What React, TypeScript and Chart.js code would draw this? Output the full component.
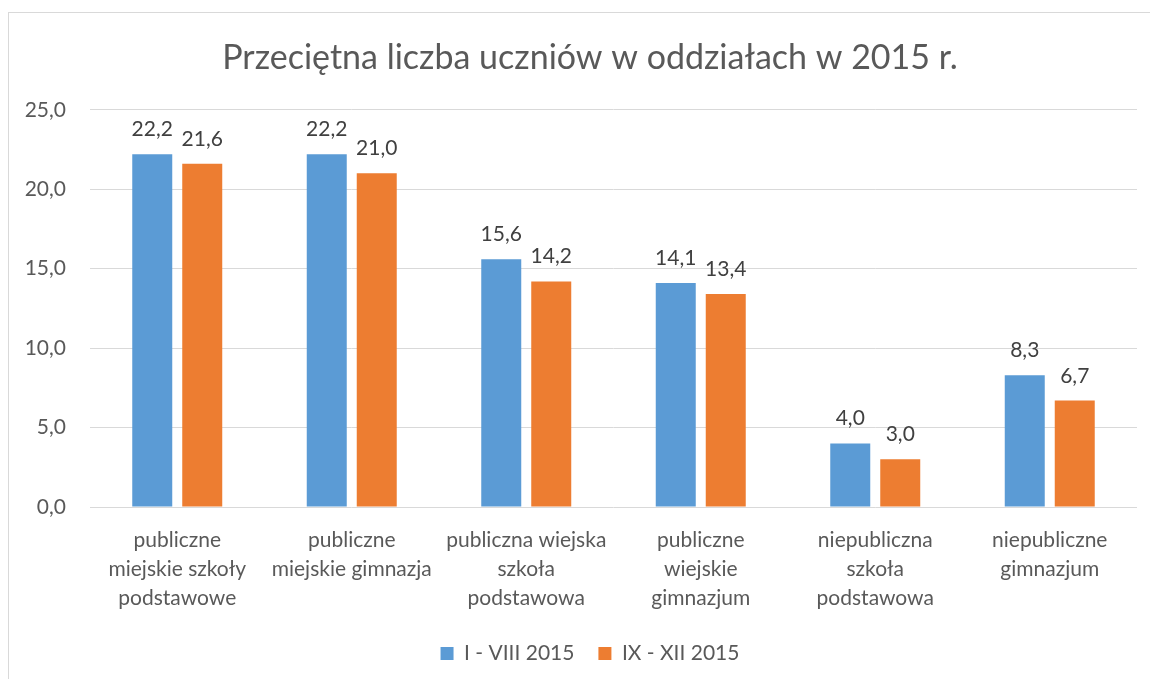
import React, { useEffect, useRef } from "react";
import { Chart, registerables } from "chart.js";

Chart.register(...registerables);

const categories: string[][] = [
  ["publiczne", "miejskie szkoły", "podstawowe"],
  ["publiczne", "miejskie gimnazja"],
  ["publiczna wiejska", "szkoła", "podstawowa"],
  ["publiczne", "wiejskie", "gimnazjum"],
  ["niepubliczna", "szkoła", "podstawowa"],
  ["niepubliczne", "gimnazjum"],
];
const seriesNames = ["I - VIII 2015", "IX - XII 2015"];
const seriesA = [22.2, 22.2, 15.6, 14.1, 4.0, 8.3];
const seriesB = [21.6, 21.0, 14.2, 13.4, 3.0, 6.7];
const yTicks = [0, 5, 10, 15, 20, 25];
const titleText = "Przeciętna liczba uczniów w oddziałach w 2015 r.";

const FONT = "Lato, 'Open Sans', sans-serif";
const fmt = (v: number) => v.toFixed(1).replace(".", ",");

const valueLabels = {
  id: "valueLabels",
  afterDatasetsDraw(chart: any) {
    const ctx = chart.ctx;
    ctx.save();
    ctx.font = `21px ${FONT}`;
    ctx.fillStyle = "#404040";
    ctx.textAlign = "center";
    ctx.textBaseline = "alphabetic";
    chart.data.datasets.forEach((ds: any, i: number) => {
      const meta = chart.getDatasetMeta(i);
      meta.data.forEach((bar: any, j: number) => {
        ctx.fillText(fmt(ds.data[j]), bar.x, bar.y - 18);
      });
    });
    ctx.restore();
  },
};

export default function App() {
  const ref = useRef<HTMLCanvasElement>(null);
  useEffect(() => {
    if (!ref.current) return;
    const chart = new Chart(ref.current, {
      type: "bar",
      data: {
        labels: categories,
        datasets: [
          { label: seriesNames[0], data: seriesA, backgroundColor: "#5B9BD5" },
          { label: seriesNames[1], data: seriesB, backgroundColor: "#ED7D31" },
        ],
      },
      options: {
        animation: false,
        responsive: false,
        devicePixelRatio: 1,
        layout: { padding: { left: 0, right: 2, top: 0, bottom: 59 } },
        datasets: { bar: { categoryPercentage: 0.573, barPercentage: 0.8 } },
        plugins: {
          title: {
            display: true,
            text: titleText,
            color: "#595959",
            font: { family: FONT, size: 34, weight: "normal" as any, lineHeight: 1.2 },
            padding: { top: 25, bottom: 31 },
          },
          legend: {
            position: "bottom",
            labels: {
              boxWidth: 13,
              boxHeight: 13,
              padding: 24,
              color: "#595959",
              font: { family: FONT, size: 21 },
            },
          },
          tooltip: { enabled: false },
        },
        scales: {
          x: {
            grid: { display: false, drawTicks: false },
            border: { display: false },
            ticks: {
              color: "#595959",
              font: { family: FONT, size: 21, lineHeight: 1.38 },
              padding: 19,
              maxRotation: 0,
              autoSkip: false,
            },
            afterFit: (s: any) => {
              s.height = 112;
            },
          },
          y: {
            min: 0,
            max: 25,
            afterBuildTicks: (s: any) => {
              s.ticks = yTicks.map((v) => ({ value: v }));
            },
            grid: { color: "#d9d9d9", lineWidth: 1, drawTicks: false },
            border: { display: false },
            ticks: {
              color: "#595959",
              font: { family: FONT, size: 21 },
              padding: 24,
              callback: (v: any) => fmt(Number(v)),
            },
            afterFit: (s: any) => {
              s.width = 81;
            },
          },
          spacer: {
            type: "linear",
            position: "right",
            min: 0,
            max: 25,
            grid: { display: false, drawTicks: false },
            border: { display: false },
            ticks: { display: false },
            afterFit: (s: any) => {
              s.width = 34;
            },
          },
        },
      },
      plugins: [valueLabels],
    });
    return () => chart.destroy();
  }, []);

  return (
    <div
      style={{
        position: "fixed",
        left: 8,
        top: 12,
        width: 1142,
        height: 667,
        overflow: "hidden",
        borderTop: "1px solid #d9d9d9",
        borderLeft: "1px solid #d9d9d9",
        background: "#fff",
      }}
    >
      <canvas ref={ref} width={1164} height={720} style={{ display: "block" }} />
    </div>
  );
}
